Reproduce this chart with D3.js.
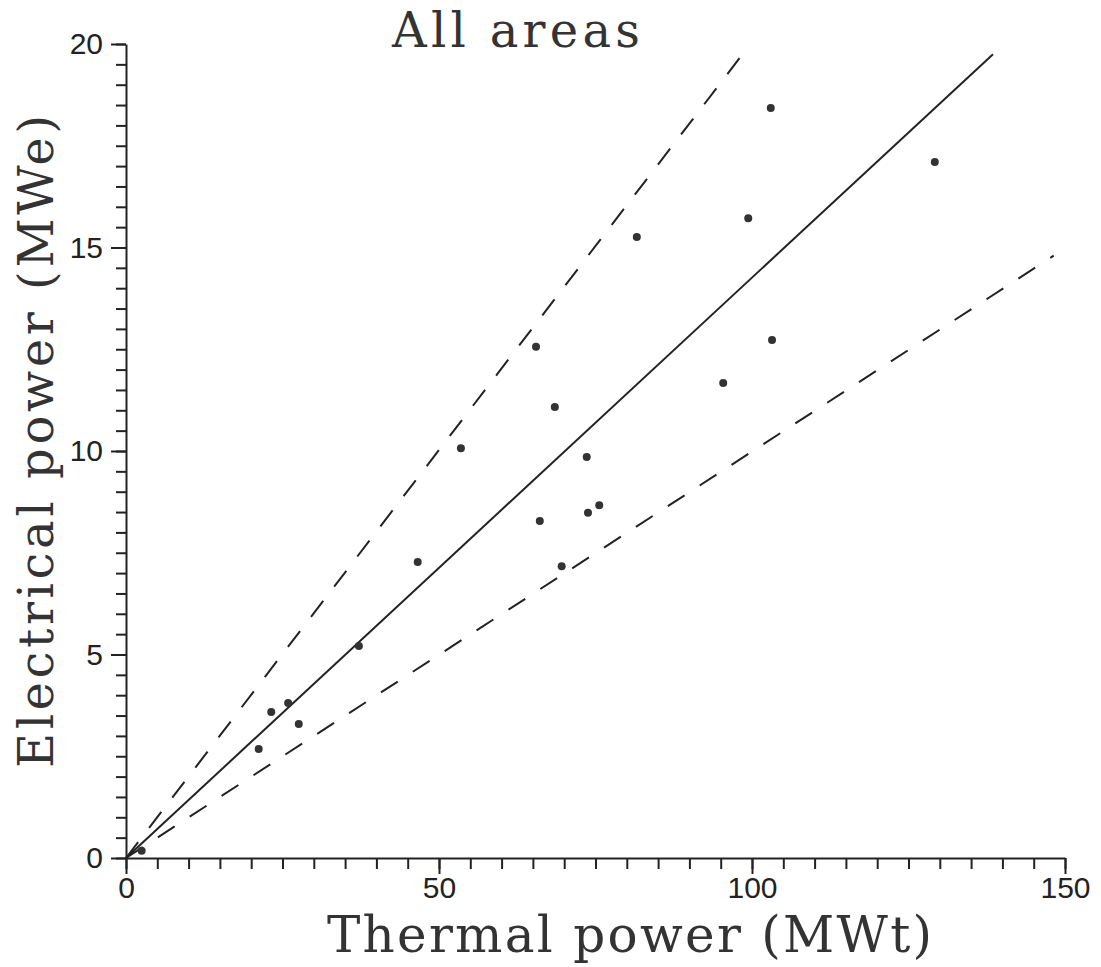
<!DOCTYPE html>
<html>
<head>
<meta charset="utf-8">
<script src="https://cdn.jsdelivr.net/npm/d3@7"></script>
<style>
  body { margin: 0; background: #fff; }
  svg { display: block; }
</style>
</head>
<body>
<div id="chart"></div>
<script>
// data (thermal MWt, electrical MWe)
var thermal = [2.5, 21.2, 23.2, 25.9, 27.6, 37.2, 46.6, 53.5, 65.5, 66.1, 68.5,
  69.6, 73.6, 73.8, 75.6, 81.6, 95.4, 99.4, 103.0, 103.2, 129.2];
var electrical = [0.18, 2.68, 3.59, 3.81, 3.29, 5.21, 7.27, 10.07, 12.56, 8.28, 11.08,
  7.17, 9.85, 8.48, 8.67, 15.26, 11.67, 15.72, 18.43, 12.73, 17.10];

// fitted line and the two bounding dashed lines
var fitLine = [[0, 0], [138.5, 19.75]];
var upperLine = [[0, 0], [99.5, 19.95]];
var lowerLine = [[0, 0], [148.2, 14.8]];

var xMajor = [0, 50, 100, 150];
var yMajor = [0, 5, 10, 15, 20];

var width = 1101, height = 967;
var svg = d3.select("#chart").append("svg")
  .attr("width", width).attr("height", height);

var x = d3.scaleLinear().domain([0, 150]).range([126, 1065]);
var y = d3.scaleLinear().domain([0, 20]).range([858, 44]);

var tickFont = "Liberation Sans, Arial, sans-serif";
var serif = "DejaVu Serif, serif";

// minor ticks
svg.append("g")
  .attr("transform", "translate(0," + y(0) + ")")
  .call(d3.axisBottom(x).tickValues(d3.range(0, 151, 5)).tickSize(11).tickSizeOuter(0).tickFormat(""))
  .call(function (g) { g.select(".domain").remove(); });
svg.append("g")
  .attr("transform", "translate(" + x(0) + ",0)")
  .call(d3.axisLeft(y).tickValues(d3.range(0, 20.01, 0.5)).tickSize(10).tickSizeOuter(0).tickFormat(""))
  .call(function (g) { g.select(".domain").remove(); });

// major ticks + labels
svg.append("g")
  .attr("transform", "translate(0," + y(0) + ")")
  .call(d3.axisBottom(x).tickValues(xMajor).tickSize(16).tickSizeOuter(0).tickPadding(3));
svg.append("g")
  .attr("transform", "translate(" + x(0) + ",0)")
  .call(d3.axisLeft(y).tickValues(yMajor).tickSize(15).tickSizeOuter(0).tickPadding(8));

svg.selectAll(".tick line").attr("stroke", "#222").attr("stroke-width", 2);
svg.selectAll(".domain").attr("stroke", "#222").attr("stroke-width", 2);
svg.selectAll(".tick text")
  .style("font-family", tickFont)
  .style("font-size", "30px")
  .attr("fill", "#222");

// lines
var line = d3.line()
  .x(function (d) { return x(d[0]); })
  .y(function (d) { return y(d[1]); });

svg.append("path").datum(fitLine)
  .attr("d", line).attr("fill", "none")
  .attr("stroke", "#222").attr("stroke-width", 2);
[upperLine, lowerLine].forEach(function (l) {
  svg.append("path").datum(l)
    .attr("d", line).attr("fill", "none")
    .attr("stroke", "#222").attr("stroke-width", 2)
    .attr("stroke-dasharray", "20,18");
});

// points
svg.append("g").selectAll("circle")
  .data(thermal.map(function (t, i) { return [t, electrical[i]]; }))
  .enter().append("circle")
  .attr("cx", function (d) { return x(d[0]); })
  .attr("cy", function (d) { return y(d[1]); })
  .attr("r", 4)
  .attr("fill", "#333");

// titles
svg.append("text")
  .attr("x", 392).attr("y", 47)
  .attr("textLength", 248).attr("lengthAdjust", "spacing")
  .style("font-family", serif).style("font-size", "48px")
  .attr("fill", "#333")
  .text("All areas");

svg.append("text")
  .attr("x", 327).attr("y", 952)
  .attr("textLength", 605).attr("lengthAdjust", "spacing")
  .style("font-family", serif).style("font-size", "50px")
  .attr("fill", "#333")
  .text("Thermal power (MWt)");

svg.append("text")
  .attr("transform", "translate(53,768) rotate(-90)")
  .attr("textLength", 653).attr("lengthAdjust", "spacing")
  .style("font-family", serif).style("font-size", "48px")
  .attr("fill", "#333")
  .text("Electrical power (MWe)");
</script>
</body>
</html>
